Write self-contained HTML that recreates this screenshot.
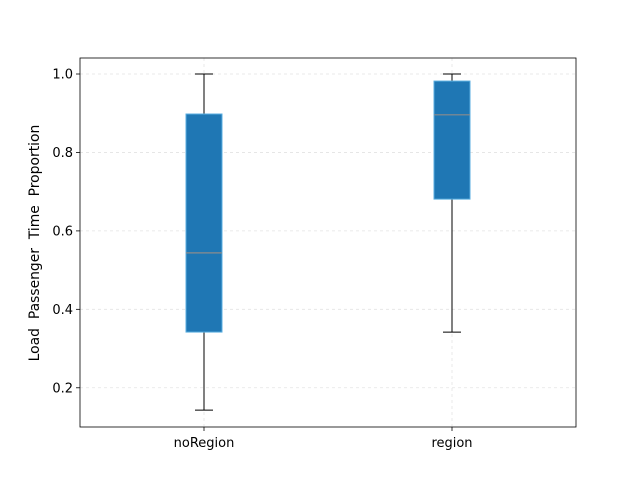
<!DOCTYPE html>
<html><head><meta charset="utf-8"><style>body{margin:0;background:#fff}svg{display:block;font-family:"DejaVu Sans","Liberation Sans",sans-serif}</style></head>
<body>
<svg id="chart" width="640" height="480">
<rect x="0" y="0" width="640" height="480" fill="#fff"/>
<g id="grid"></g><g id="marks"></g><g id="axes"></g>
<text transform="translate(39,243) rotate(-90)" text-anchor="middle" font-size="13.9" fill="#000" style="white-space:pre" xml:space="preserve">Load  Passenger  Time  Proportion</text>
</svg>
<script>
const categories = ["noRegion", "region"];
const whiskerLow = [0.143, 0.342];
const q1Values = [0.342, 0.681];
const medians = [0.544, 0.896];
const q3Values = [0.898, 0.982];
const whiskerHigh = [1.0, 1.0];
const yTicks = [0.2, 0.4, 0.6, 0.8, 1.0];
const yTickLabels = ["0.2", "0.4", "0.6", "0.8", "1.0"];

const L=80,R=576,T=58,B=427,yMin=0.1,yMax=1.0408;
const NS="http://www.w3.org/2000/svg";
function y(v){return B-(v-yMin)/(yMax-yMin)*(B-T);}
function x(i){return L+(R-L)*(i+0.5)/categories.length;}
function mk(parent,tag,attrs){const e=document.createElementNS(NS,tag);for(const k in attrs)e.setAttribute(k,attrs[k]);document.getElementById(parent).appendChild(e);return e;}
yTicks.forEach((t,i)=>{
  const g=mk('grid','line',{x1:L,x2:R,y1:y(t),y2:y(t),stroke:'#b0b0b0','stroke-opacity':0.35,'stroke-dasharray':'3,3','stroke-width':0.8});
  
  
  const tk=mk('axes','line',{x1:L-4,x2:L,y1:y(t),y2:y(t),stroke:'#000','stroke-width':0.8});
  
  
  const tx=mk('axes','text',{x:L-7,y:y(t)+4.5,'text-anchor':'end','font-size':13});
  tx.textContent=yTickLabels[i];
  
  
});
categories.forEach((c,i)=>{
  const cx=x(i);
  const gl=mk('grid','line',{x1:cx,x2:cx,y1:T,y2:B,stroke:'#b0b0b0','stroke-opacity':0.35,'stroke-dasharray':'3,3','stroke-width':0.8});
  
  
  const w1=mk('marks','line',{x1:cx,x2:cx,y1:y(whiskerLow[i]),y2:y(q1Values[i]),stroke:'#000','stroke-width':1});
  
  
  const w2=mk('marks','line',{x1:cx,x2:cx,y1:y(q3Values[i]),y2:y(whiskerHigh[i]),stroke:'#000','stroke-width':1});
  
  
  const c1=mk('marks','line',{x1:cx-9,x2:cx+9,y1:y(whiskerLow[i]),y2:y(whiskerLow[i]),stroke:'#000','stroke-width':1});
  
  
  const c2=mk('marks','line',{x1:cx-9,x2:cx+9,y1:y(whiskerHigh[i]),y2:y(whiskerHigh[i]),stroke:'#000','stroke-width':1});
  
  
  const bx=mk('marks','rect',{x:cx-18,y:y(q3Values[i]),width:36,height:y(q1Values[i])-y(q3Values[i]),fill:'#1f77b4',stroke:'#5aaee0','stroke-width':1});
  
  
  const md=mk('marks','line',{x1:cx-18,x2:cx+18,y1:y(medians[i]),y2:y(medians[i]),stroke:'#8c8c8c','stroke-width':1.2});
  
  
  const tk=mk('axes','line',{x1:cx,x2:cx,y1:B,y2:B+4,stroke:'#000','stroke-width':0.8});
  
  
  const tx=mk('axes','text',{x:cx,y:B+20,'text-anchor':'middle','font-size':13});
  tx.textContent=c;
  
  
});
const fr=mk('axes','rect',{x:L,y:T,width:R-L,height:B-T,fill:'none',stroke:'#000','stroke-width':0.8});


</script>
</body></html>
